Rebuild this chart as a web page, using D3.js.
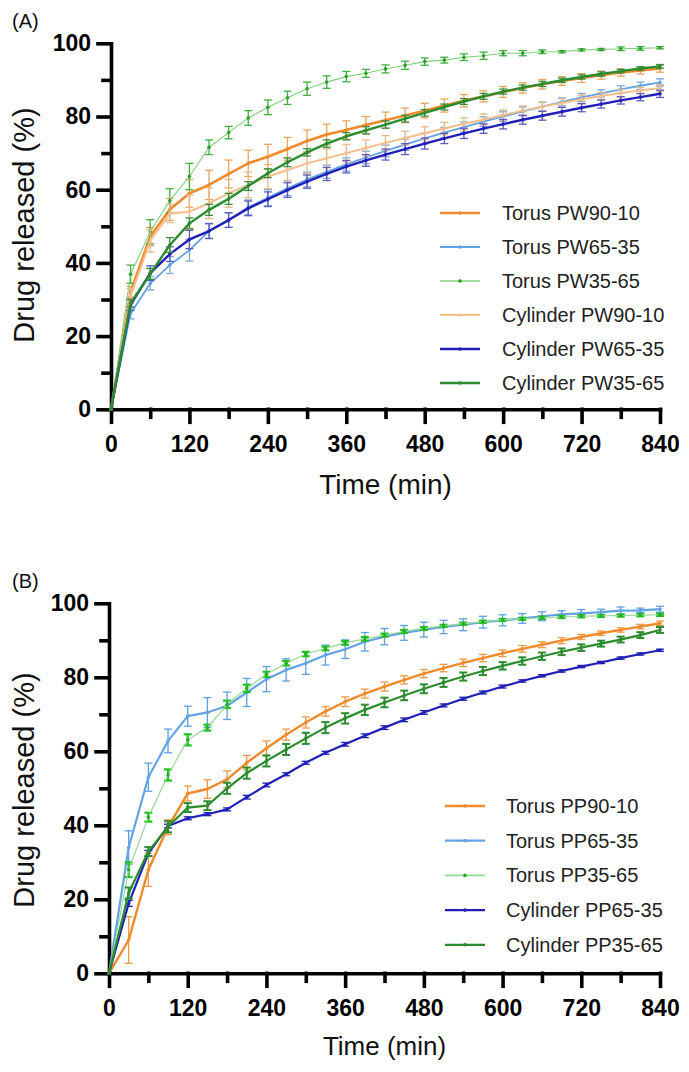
<!DOCTYPE html>
<html><head><meta charset="utf-8">
<script src="https://cdn.jsdelivr.net/npm/d3@7"></script>
<style>
html,body{margin:0;padding:0;background:#fff;}
svg{display:block;}
</style>
</head><body>
<svg id="chart" width="689" height="1072"></svg>
<script>
// ---------- DATA ----------
const timeMin = [0,30,60,90,120,150,180,210,240,270,300,330,360,390,420,450,480,510,540,570,600,630,660,690,720,750,780,810,840];
const xTickLabels = [0,120,240,360,480,600,720,840];
const xMinorTicks = [60,180,300,420,540,660,780];
const yTickLabels = [0,20,40,60,80,100];
const yMinorTicks = [10,30,50,70,90];

// Panel A
const torusPW90 = [0,32.1,47.2,54.6,59.0,61.3,64.3,67.2,69.0,71.1,73.3,75.1,76.3,77.7,79.0,80.3,81.6,83.0,84.3,85.5,86.7,87.8,88.8,89.7,90.5,91.3,92.0,92.6,93.1];
const torusPW90Err = [0,1.5,2.5,3,3.8,4,3.8,3.6,3.4,3.2,3,2.8,2.5,2.3,2.2,2,2,1.8,1.7,1.5,1.5,1.4,1.3,1.2,1.2,1.1,1,1,1];
const torusPW65 = [0,26.2,34.4,39.4,43.5,48.7,51.7,55.2,57.8,60.4,62.8,64.9,66.9,68.8,70.6,72.3,74.0,75.6,77.1,78.6,80.0,81.4,82.7,84.0,85.2,86.3,87.4,88.4,89.3];
const torusPW65Err = [0,1.5,1.8,2.3,3,2.1,2,2,2.2,2,2,1.8,1.8,1.7,1.6,1.5,1.5,1.4,1.4,1.3,1.3,1.2,1.2,1.1,1.1,1,1,1,1];
const torusPW35 = [0,36.9,48.5,57.0,63.6,71.6,75.6,79.6,82.5,85.1,87.6,89.4,90.9,91.8,93.0,94.0,95.0,95.4,96.2,96.6,97.3,97.3,97.7,97.7,98.2,98.3,98.5,98.6,98.8];
const torusPW35Err = [0,2.5,3.3,3.3,3.6,2,1.7,2,2,1.8,1.8,1.7,1.4,1.1,1.1,1.1,1,0.8,0.9,1,0.7,0.7,0.5,0.3,0.3,0.3,0.5,0.5,0.3];
const cylPW90 = [0,31.0,46.0,53.5,54.0,56.3,59.0,61.3,63.6,65.4,67.2,68.6,70.0,71.4,72.8,74.1,75.4,76.7,78.0,79.2,80.4,81.6,82.7,83.7,84.7,85.6,86.4,87.1,87.8];
const cylPW90Err = [0,2,3,2.5,4.5,4.2,3.8,3.5,3.3,3,2.8,2.6,2.4,2.2,2,1.9,1.8,1.7,1.6,1.5,1.4,1.3,1.2,1.2,1.1,1,1,0.9,0.9];
const cylPW65 = [0,28.5,37.2,42.4,46.4,48.7,51.7,54.9,57.4,59.9,62.2,64.3,66.3,68.0,69.6,71.1,72.6,74.0,75.4,76.7,77.9,79.1,80.2,81.3,82.4,83.4,84.4,85.3,86.2];
const cylPW65Err = [0,1.5,2,2,2.5,2,2,2,2,2,1.8,1.8,1.7,1.6,1.5,1.5,1.5,1.4,1.4,1.3,1.3,1.2,1.2,1.2,1.1,1.1,1,1,1];
const cylPW35 = [0,29.0,37.0,44.9,50.8,54.5,57.5,61.0,64.5,67.5,70.2,72.6,74.6,76.2,77.8,79.4,81.0,82.6,84.1,85.5,86.8,87.9,88.9,89.9,90.8,91.6,92.4,93.1,93.7];
const cylPW35Err = [0,1,1.5,2,1.5,1.5,1.5,1.2,1.2,1.2,1,1,1,1,1,0.9,0.9,0.8,0.8,0.8,0.7,0.7,0.7,0.6,0.6,0.6,0.5,0.5,0.5];

// Panel B
const torusPP90 = [0,9.0,28.0,39.5,48.6,49.8,52.4,56.9,60.8,64.5,67.8,70.8,73.4,75.6,77.5,79.3,81.0,82.5,83.9,85.2,86.5,87.7,88.8,89.9,90.9,91.9,92.8,93.7,94.6];
const torusPP90Err = [0,6.3,4.5,2,2,2.5,2.3,2,2,1.5,1.5,1.3,1.3,1.2,1.2,1.1,1.1,1,1,1,0.9,0.9,0.8,0.8,0.7,0.6,0.6,0.6,0.6];
const torusPP65 = [0,34.0,53.0,62.8,69.5,70.5,72.3,75.9,79.5,82.0,83.8,86.0,87.6,89.6,91.0,92.0,92.9,93.6,94.2,94.9,95.4,95.9,96.5,97.0,97.3,97.6,98.0,98.1,98.4];
const torusPP65Err = [0,4.5,3.8,3.2,2.7,4,3.7,3.8,3.4,3,3,2.7,2.5,2.5,2.2,2,2,1.8,1.6,1.6,1.5,1.3,1.2,1,1,0.8,1,0.6,0.8];
const torusPP35 = [0,28.0,42.2,53.6,63.1,66.4,72.7,77.0,80.8,83.8,86.3,87.8,89.3,90.4,91.4,92.4,93.2,93.9,94.5,95.0,95.5,95.8,96.1,96.3,96.5,96.6,96.7,96.8,96.9];
const torusPP35Err = [0,2,1.2,1.5,1.5,0.8,1,1,0.7,0.6,0.6,0.5,0.5,0.5,0.4,0.4,0.4,0.3,0.3,0.3,0.3,0.3,0.3,0.3,0.3,0.3,0.3,0.3,0.3];
const cylPP65 = [0,18.9,32.4,39.8,41.9,43.0,44.3,47.6,50.9,53.8,56.9,59.6,61.9,64.2,66.4,68.5,70.5,72.4,74.2,75.9,77.5,79.0,80.4,81.7,82.9,84.0,85.2,86.3,87.3];
const cylPP65Err = [0,0.8,0.8,0.5,0.4,0.4,0.4,0.5,0.5,0.4,0.4,0.4,0.5,0.5,0.5,0.5,0.5,0.4,0.4,0.4,0.4,0.3,0.3,0.3,0.3,0.3,0.3,0.3,0.3];
const cylPP35 = [0,21.7,32.9,39.6,44.8,45.3,50.0,54.1,57.4,60.5,63.5,66.4,68.9,71.2,73.2,75.1,76.9,78.6,80.2,81.7,83.1,84.4,85.7,86.9,88.0,89.1,90.2,91.4,92.8];
const cylPP35Err = [0,1.5,1.2,1.5,1.2,1.2,1.5,1.5,1.5,1.5,1.5,1.5,1.4,1.4,1.3,1.3,1.2,1.2,1.1,1.1,1,1,1,0.9,0.9,0.8,0.8,0.8,0.8];

const namesA = ["Torus PW90-10","Torus PW65-35","Torus PW35-65","Cylinder PW90-10","Cylinder PW65-35","Cylinder PW35-65"];
const namesB = ["Torus PP90-10","Torus PP65-35","Torus PP35-65","Cylinder PP65-35","Cylinder PP35-65"];

// ---------- STYLE ----------
const C = {
  orange:"#F08A2C", lblue:"#62A3E6", lgreen:"#7ED27A",
  peach:"#F5BE8A", dblue:"#2020B8", dgreen:"#2A8C2E"
};

const seriesA = [
  {name:namesA[0], v:torusPW90, e:torusPW90Err, color:C.orange, ecol:"#E9A55C", w:2.6},
  {name:namesA[1], v:torusPW65, e:torusPW65Err, color:C.lblue, ecol:"#7FA8DC", w:1.8},
  {name:namesA[2], v:torusPW35, e:torusPW35Err, color:C.lgreen, ecol:"#3FAF3F", mcol:"#2E9E2E", w:1.1},
  {name:namesA[3], v:cylPW90, e:cylPW90Err, color:C.peach, ecol:"#E6B888", w:2.0},
  {name:namesA[4], v:cylPW65, e:cylPW65Err, color:C.dblue, ecol:"#5A5AC0", w:2.4},
  {name:namesA[5], v:cylPW35, e:cylPW35Err, color:C.dgreen, ecol:"#3C8E3C", w:2.4}
];
const seriesB = [
  {name:namesB[0], v:torusPP90, e:torusPP90Err, color:C.orange, ecol:"#EE9A45", w:2.4},
  {name:namesB[1], v:torusPP65, e:torusPP65Err, color:C.lblue, ecol:"#5C9FE2", w:2.2},
  {name:namesB[2], v:torusPP35, e:torusPP35Err, color:"#95D995", ecol:"#22C022", mcol:"#22B022", w:1.2, ew:2.2},
  {name:namesB[3], v:cylPP65, e:cylPP65Err, color:C.dblue, ecol:"#2020B8", w:2.2},
  {name:namesB[4], v:cylPP35, e:cylPP35Err, color:C.dgreen, ecol:"#2A8C2E", w:2.2, ew:2}
];

const svg = d3.select("#chart");
const FONT = "'Liberation Sans', Arial, Helvetica, sans-serif";

function drawPanel(cfg, series){
  const g = svg.append("g");
  const x = d3.scaleLinear().domain([0,840]).range([cfg.x0, cfg.x1]);
  const y = d3.scaleLinear().domain([0,100]).range([cfg.y0, cfg.y1]);

  g.append("text").attr("x", 12).attr("y", cfg.letterY).text(cfg.letter)
    .attr("font-family", FONT).attr("font-size", 20).attr("fill","#111");

  const axW = 3.6;
  g.append("g").attr("transform", `translate(${cfg.x0},0)`)
    .call(d3.axisLeft(y).tickValues(yTickLabels).tickSize(13).tickSizeOuter(0).tickPadding(7));
  g.append("g").attr("transform", `translate(${cfg.x0},0)`)
    .call(d3.axisLeft(y).tickValues(yMinorTicks).tickSize(8).tickSizeOuter(0).tickFormat(""))
    .select(".domain").remove();
  g.append("g").attr("transform", `translate(0,${cfg.y0})`)
    .call(d3.axisBottom(x).tickValues(xTickLabels).tickSize(13).tickSizeOuter(0).tickPadding(13));
  g.append("g").attr("transform", `translate(0,${cfg.y0})`)
    .call(d3.axisBottom(x).tickValues(xMinorTicks).tickSize(8).tickSizeOuter(0).tickFormat(""))
    .select(".domain").remove();
  g.selectAll(".domain, .tick line").attr("stroke","#000").attr("stroke-width", axW).attr("stroke-linecap","square");
  g.selectAll(".tick text").attr("font-family", FONT).attr("font-weight","bold")
    .attr("font-size", 23).attr("fill","#000");

  g.append("text").attr("x", (cfg.x0+cfg.x1)/2).attr("y", cfg.xTitleY).attr("text-anchor","middle")
    .attr("font-family", FONT).attr("font-size", cfg.xTitleSize).attr("fill","#111").text("Time (min)");
  g.append("text").attr("transform", `translate(${cfg.yTitleX},${cfg.yTitleCY}) rotate(-90)`)
    .attr("text-anchor","middle").attr("font-family", FONT).attr("font-size", cfg.yTitleSize)
    .attr("fill","#111").text("Drug released (%)");

  const line = d3.line().x((d,i)=>x(timeMin[i])).y(d=>y(d));
  series.forEach(s=>{
    const sg = g.append("g");
    const eb = sg.selectAll("g.eb").data(s.v.map((v,i)=>({t:timeMin[i], v, e:s.e[i]})).filter(d=>d.e>0))
      .enter().append("g");
    const ew = s.ew || 1.3;
    eb.append("line").attr("x1",d=>x(d.t)).attr("x2",d=>x(d.t))
      .attr("y1",d=>y(d.v-d.e)).attr("y2",d=>y(d.v+d.e)).attr("stroke",s.ecol).attr("stroke-width",ew);
    eb.append("line").attr("x1",d=>x(d.t)-4).attr("x2",d=>x(d.t)+4)
      .attr("y1",d=>y(d.v+d.e)).attr("y2",d=>y(d.v+d.e)).attr("stroke",s.ecol).attr("stroke-width",ew);
    eb.append("line").attr("x1",d=>x(d.t)-4).attr("x2",d=>x(d.t)+4)
      .attr("y1",d=>y(d.v-d.e)).attr("y2",d=>y(d.v-d.e)).attr("stroke",s.ecol).attr("stroke-width",ew);
    sg.append("path").datum(s.v).attr("d", line).attr("fill","none")
      .attr("stroke", s.color).attr("stroke-width", s.w).attr("stroke-linejoin","round");
    sg.selectAll("circle").data(s.v).enter().append("circle")
      .attr("cx",(d,i)=>x(timeMin[i])).attr("cy",d=>y(d)).attr("r",1.8)
      .attr("fill", s.mcol || s.color);
  });

  const lg = g.append("g");
  series.forEach((s,i)=>{
    const ly = cfg.legY + i*cfg.legStep;
    lg.append("line").attr("x1",cfg.legX).attr("x2",cfg.legX+40).attr("y1",ly).attr("y2",ly)
      .attr("stroke",s.color).attr("stroke-width",Math.max(s.w,1.6));
    lg.append("circle").attr("cx",cfg.legX+20).attr("cy",ly).attr("r",1.8).attr("fill",s.mcol||s.color);
    lg.append("text").attr("x",cfg.legTextX).attr("y",ly).attr("dy","0.35em")
      .attr("font-family",FONT).attr("font-size",cfg.legSize).attr("fill","#222").text(s.name);
  });
}

drawPanel({letter:"(A)", letterY:28, x0:111, x1:660, y0:409.3, y1:43.3, xTitleY:494, xTitleSize:28,
  yTitleX:34, yTitleCY:225, yTitleSize:29,
  legX:440, legTextX:502, legY:213, legStep:34, legSize:20}, seriesA);
drawPanel({letter:"(B)", letterY:588, x0:109, x1:660, y0:973.3, y1:603.3, xTitleY:1055, xTitleSize:26,
  yTitleX:34, yTitleCY:790, yTitleSize:29,
  legX:445, legTextX:506, legY:806, legStep:34.7, legSize:20}, seriesB);
</script>
</body></html>
